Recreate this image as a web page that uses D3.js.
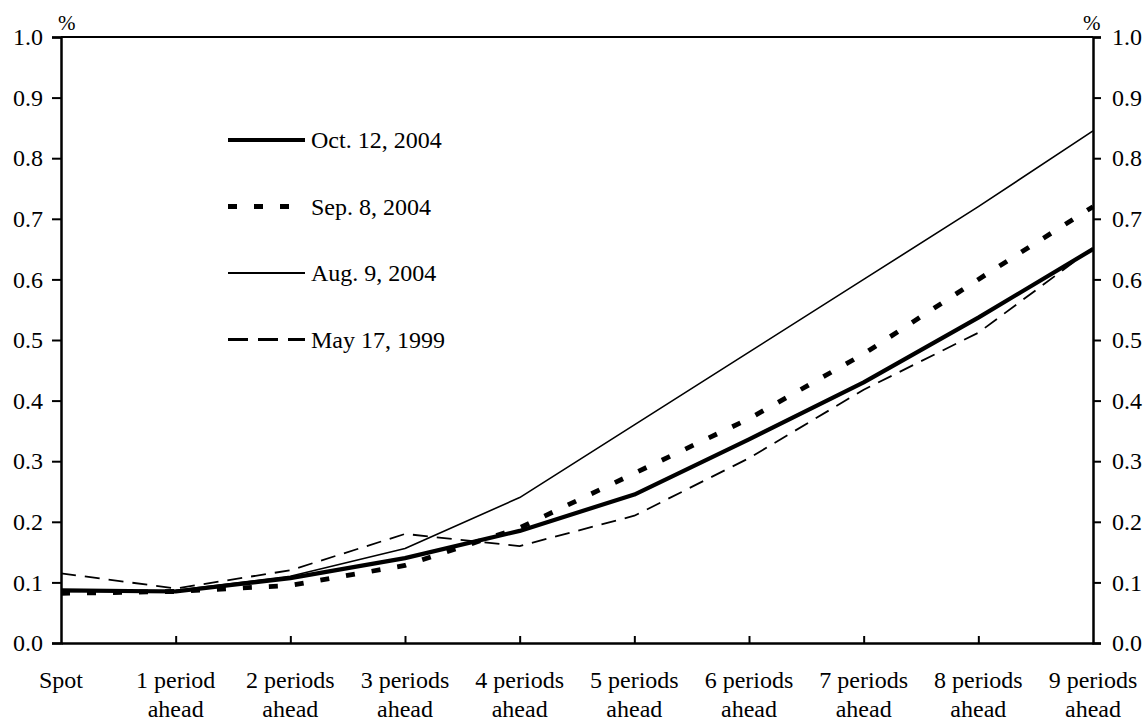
<!DOCTYPE html>
<html><head><meta charset="utf-8">
<script src="https://cdn.jsdelivr.net/npm/d3@7"></script>
<style>body{margin:0;background:#fff}svg{display:block;font-family:"Liberation Serif","Times New Roman",serif}</style>
</head><body><svg id="c" width="1146" height="722"></svg>
<script>
const categories = [["Spot"],["1 period","ahead"],["2 periods","ahead"],["3 periods","ahead"],["4 periods","ahead"],["5 periods","ahead"],["6 periods","ahead"],["7 periods","ahead"],["8 periods","ahead"],["9 periods","ahead"]];
const oct12_2004 = [0.087,0.085,0.107,0.14,0.185,0.245,0.336,0.43,0.537,0.65];
const sep8_2004  = [0.082,0.085,0.095,0.128,0.19,0.28,0.37,0.477,0.60,0.72];
const aug9_2004  = [0.085,0.087,0.11,0.156,0.24,0.36,0.48,0.60,0.72,0.845];
const may17_1999 = [0.115,0.09,0.12,0.18,0.16,0.21,0.305,0.418,0.512,0.652];
const yTicks = [0,0.1,0.2,0.3,0.4,0.5,0.6,0.7,0.8,0.9,1.0];
const seriesNames = ["Oct. 12, 2004","Sep. 8, 2004","Aug. 9, 2004","May 17, 1999"];

const series = [
  {name:seriesNames[0], values:oct12_2004, w:4.2, lw:4.2, dash:null, ldash:null, lx2:305},
  {name:seriesNames[1], values:sep8_2004, w:4.8, lw:4.8, dash:"9,17", ldash:"9,17", lx2:292},
  {name:seriesNames[2], values:aug9_2004, w:1.6, lw:1.8, dash:null, ldash:null, lx2:305},
  {name:seriesNames[3], values:may17_1999, w:1.8, lw:2.8, dash:"15,9", ldash:"20,10", lx2:305}
];

const svg = d3.select("#c");
const L=61, R=1093, T=37, B=643;
const x = d3.scalePoint().domain(d3.range(categories.length)).range([L,R]);
const y = d3.scaleLinear().domain([0,1]).range([B,T]);

svg.append("line").attr("x1",L).attr("x2",R).attr("y1",T).attr("y2",T).attr("stroke","#000").attr("stroke-width",2);

const gl = svg.append("g").attr("transform",`translate(${L},0)`)
  .call(d3.axisLeft(y).tickValues(yTicks).tickFormat(d3.format(".1f")).tickSize(9).tickPadding(9));
const gr = svg.append("g").attr("transform",`translate(${R},0)`)
  .call(d3.axisRight(y).tickValues(yTicks).tickFormat(d3.format(".1f")).tickSize(8).tickPadding(11));
[gl,gr].forEach(g=>{
  g.select(".domain").attr("stroke-width",2.5);
  g.selectAll(".tick line").attr("stroke-width",2);
  g.selectAll("text").attr("font-size",24).attr("font-family","Liberation Serif, Times New Roman, serif").attr("fill","#000");
});

const gb = svg.append("g").attr("transform",`translate(0,${B})`)
  .call(d3.axisBottom(x).tickSize(-7).tickSizeOuter(0).tickFormat(""));
gb.select(".domain").attr("stroke-width",2.5);
gb.selectAll(".tick line").attr("stroke-width",2)
  .attr("display",(d,i)=> (i===0||i===categories.length-1)?"none":null);
const lab = svg.append("g");
categories.forEach((c,i)=>{
  const t = lab.append("text").attr("x",x(i)).attr("y",688).attr("text-anchor","middle").attr("font-size",24);
  c.forEach((s,j)=>t.append("tspan").attr("x",x(i)).attr("y",688+j*29).text(s));
});

svg.append("text").attr("x",58).attr("y",30).attr("font-size",21).text("%");
svg.append("text").attr("x",1083).attr("y",30).attr("font-size",21).text("%");

const line = d3.line().x((d,i)=>x(i)).y(d=>y(d));
series.forEach(s=>{
  svg.append("path").datum(s.values).attr("d",line).attr("fill","none")
    .attr("stroke","#000").attr("stroke-width",s.w)
    .attr("stroke-dasharray",s.dash).attr("stroke-linejoin","round");
});

const lg = svg.append("g");
series.forEach((s,i)=>{
  const yy = 140 + i*66.5;
  lg.append("line").attr("x1",228).attr("x2",s.lx2).attr("y1",yy).attr("y2",yy)
    .attr("stroke","#000").attr("stroke-width",s.lw).attr("stroke-dasharray",s.ldash);
  lg.append("text").attr("x",311).attr("y",yy+8).attr("font-size",24).text(s.name);
});
</script></body></html>
